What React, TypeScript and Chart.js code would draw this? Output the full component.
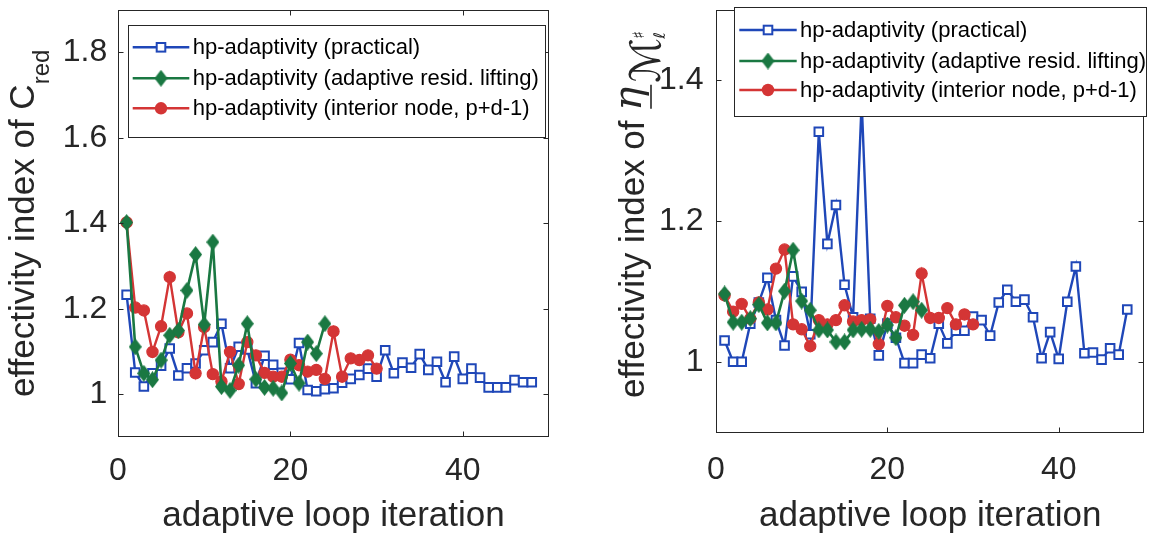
import React, { useEffect, useRef } from "react";
import { Chart, registerables } from "chart.js";

Chart.register(...registerables);

// ---------------- data ----------------
const iterations = [
  1, 2, 3, 4, 5, 6, 7, 8, 9, 10, 11, 12, 13, 14, 15, 16, 17, 18, 19, 20, 21, 22, 23, 24,
  25, 26, 27, 28, 29, 30, 31, 32, 33, 34, 35, 36, 37, 38, 39, 40, 41, 42, 43, 44, 45, 46, 47, 48,
];

const seriesLabels = [
  "hp-adaptivity (practical)",
  "hp-adaptivity (adaptive resid. lifting)",
  "hp-adaptivity (interior node, p+d-1)",
];

// left panel: effectivity index of C_red
const leftPractical = [
  1.233, 1.051, 1.018, 1.049, 1.067, 1.107, 1.044, 1.061, 1.072, 1.103, 1.122, 1.165,
  1.061, 1.111, 1.105, 1.026, 1.09, 1.069, 1.05, 1.035, 1.12, 1.01, 1.007, 1.012,
  1.014, 1.027, 1.036, 1.045, 1.06, 1.041, 1.103, 1.049, 1.074, 1.062, 1.094, 1.057,
  1.076, 1.028, 1.088, 1.036, 1.06, 1.039, 1.016, 1.016, 1.016, 1.033, 1.028, 1.028,
];
const leftLifting = [
  1.402, 1.111, 1.049, 1.034, 1.08, 1.138, 1.149, 1.243, 1.327, 1.163, 1.356, 1.018,
  1.009, 1.068, 1.165, 1.035, 1.016, 1.014, 1.003, 1.072, 1.026, 1.122, 1.095, 1.165,
];
const leftInterior = [
  1.402, 1.203, 1.196, 1.099, 1.159, 1.274, 1.145, 1.189, 1.049, 1.157, 1.047, 1.03,
  1.099, 1.024, 1.122, 1.091, 1.05, 1.041, 1.041, 1.081, 1.068, 1.053, 1.057, 1.036,
  1.147, 1.041, 1.084, 1.08, 1.091, 1.06,
];

// right panel: effectivity index of eta
const rightPractical = [
  1.031, 1.001, 1.001, 1.055, 1.085, 1.12, 1.06, 1.024, 1.122, 1.1, 1.04, 1.327,
  1.168, 1.223, 1.11, 1.064, 1.37, 1.062, 1.01, 1.055, 1.035, 0.999, 0.999, 1.011,
  1.006, 1.055, 1.027, 1.045, 1.045, 1.065, 1.06, 1.038, 1.085, 1.103, 1.086, 1.089,
  1.064, 1.006, 1.043, 1.005, 1.086, 1.136, 1.013, 1.014, 1.004, 1.02, 1.011, 1.075,
];
const rightLifting = [
  1.097, 1.057, 1.057, 1.062, 1.082, 1.056, 1.056, 1.101, 1.159, 1.087, 1.074, 1.046,
  1.046, 1.029, 1.029, 1.046, 1.047, 1.047, 1.044, 1.053, 1.035, 1.081, 1.086, 1.074,
];
const rightInterior = [
  1.095, 1.072, 1.083, 1.062, 1.085, 1.075, 1.133, 1.16, 1.054, 1.047, 1.023, 1.06,
  1.054, 1.06, 1.081, 1.058, 1.06, 1.061, 1.026, 1.08, 1.064, 1.052, 1.039, 1.126,
  1.063, 1.063, 1.077, 1.054, 1.068, 1.054,
];

const xTicks = [0, 20, 40];
const leftYTicks = [1, 1.2, 1.4, 1.6, 1.8];
const rightYTicks = [1, 1.2, 1.4];
const xLabel = "adaptive loop iteration";

// ---------------- styles ----------------
const FONT = "'Liberation Sans', Arial, Helvetica, sans-serif";
const AXIS = "#262626";
const BLUE = "#1f47b8";
const GREEN = "#1a7842";
const RED = "#d43535";
const TICK_LEN = 5;
const SQ_HALF = 4.3; // half side of the open square marker
const CIRCLE_R = 6.2;
const DIAMOND_W = 13;
const DIAMOND_H = 17;

function makeDiamond(color: string): HTMLCanvasElement {
  const c = document.createElement("canvas");
  const w = DIAMOND_W;
  const h = DIAMOND_H;
  c.width = w;
  c.height = h;
  const g = c.getContext("2d")!;
  g.fillStyle = color;
  g.beginPath();
  g.moveTo(w / 2, 0);
  g.lineTo(w, h / 2);
  g.lineTo(w / 2, h);
  g.lineTo(0, h / 2);
  g.closePath();
  g.fill();
  return c;
}

function toPoints(xs: number[], ys: number[]) {
  return ys.map((y, i) => ({ x: xs[i], y }));
}

type LegendCfg = {
  left: number;
  top: number;
  width: number;
  height: number;
  rows: number[];
  lineX0: number;
  lineX1: number;
  textX: number;
};

type PanelCfg = {
  yTicks: number[];
  legend: LegendCfg;
  diamond: HTMLCanvasElement;
  drawYTitle: (ctx: CanvasRenderingContext2D, area: any) => void;
};

function drawMarker(
  ctx: CanvasRenderingContext2D,
  kind: number,
  x: number,
  y: number,
  diamond: HTMLCanvasElement
) {
  if (kind === 0) {
    ctx.fillStyle = "#fff";
    ctx.strokeStyle = BLUE;
    ctx.lineWidth = 2;
    ctx.fillRect(x - SQ_HALF, y - SQ_HALF, SQ_HALF * 2, SQ_HALF * 2);
    ctx.strokeRect(x - SQ_HALF, y - SQ_HALF, SQ_HALF * 2, SQ_HALF * 2);
  } else if (kind === 1) {
    ctx.drawImage(diamond, x - diamond.width / 2, y - diamond.height / 2);
  } else {
    ctx.fillStyle = RED;
    ctx.beginPath();
    ctx.arc(x, y, CIRCLE_R, 0, Math.PI * 2);
    ctx.fill();
  }
}

function framePlugin(cfg: PanelCfg) {
  return {
    id: "matlabFrame",
    afterDatasetsDraw(chart: any) {
      const ctx: CanvasRenderingContext2D = chart.ctx;
      const a = chart.chartArea;
      const xs = chart.scales.x;
      const ys = chart.scales.y;
      ctx.save();
      // axes box with inward ticks on all four sides
      ctx.strokeStyle = AXIS;
      ctx.lineWidth = 1;
      const l = Math.round(a.left) + 0.5;
      const t = Math.round(a.top) + 0.5;
      const r = Math.round(a.right) - 0.5;
      const b = Math.round(a.bottom) - 0.5;
      ctx.strokeRect(l, t, r - l, b - t);
      ctx.beginPath();
      for (const v of xTicks) {
        const p = Math.round(xs.getPixelForValue(v)) + 0.5;
        ctx.moveTo(p, b);
        ctx.lineTo(p, b - TICK_LEN);
        ctx.moveTo(p, t);
        ctx.lineTo(p, t + TICK_LEN);
      }
      for (const v of cfg.yTicks) {
        const p = Math.round(ys.getPixelForValue(v)) + 0.5;
        ctx.moveTo(l, p);
        ctx.lineTo(l + TICK_LEN, p);
        ctx.moveTo(r, p);
        ctx.lineTo(r - TICK_LEN, p);
      }
      ctx.stroke();

      // legend (opaque, drawn over the data like MATLAB)
      const L = cfg.legend;
      ctx.fillStyle = "#fff";
      ctx.fillRect(L.left, L.top, L.width, L.height);
      ctx.strokeStyle = AXIS;
      ctx.lineWidth = 1;
      ctx.strokeRect(Math.round(L.left) + 0.5, Math.round(L.top) + 0.5, Math.round(L.width), Math.round(L.height));
      const colors = [BLUE, GREEN, RED];
      seriesLabels.forEach((lab, i) => {
        const y = L.rows[i];
        ctx.strokeStyle = colors[i];
        ctx.lineWidth = 2.4;
        ctx.beginPath();
        ctx.moveTo(L.lineX0, y);
        ctx.lineTo(L.lineX1, y);
        ctx.stroke();
        drawMarker(ctx, i, (L.lineX0 + L.lineX1) / 2, y, cfg.diamond);
        ctx.fillStyle = "#000";
        ctx.font = `22px ${FONT}`;
        ctx.textAlign = "left";
        ctx.textBaseline = "middle";
        ctx.fillText(lab, L.textX, y + 1);
      });

      ctx.save();
      cfg.drawYTitle(ctx, a);
      ctx.restore();
      ctx.restore();
    },
  };
}

function drawLeftTitle(ctx: CanvasRenderingContext2D, a: any) {
  const main = "effectivity index of C";
  const sub = "red";
  ctx.font = `35px ${FONT}`;
  const w1 = ctx.measureText(main).width;
  ctx.font = `24px ${FONT}`;
  const w2 = ctx.measureText(sub).width;
  const total = w1 + w2;
  const cy = (a.top + a.bottom) / 2;
  ctx.translate(33.5, cy + total / 2);
  ctx.rotate(-Math.PI / 2);
  ctx.fillStyle = AXIS;
  ctx.textAlign = "left";
  ctx.textBaseline = "alphabetic";
  ctx.font = `35px ${FONT}`;
  ctx.fillText(main, 0, 0);
  ctx.font = `24px ${FONT}`;
  ctx.fillText(sub, w1, 15.5);
}

function drawRightTitle(ctx: CanvasRenderingContext2D, a: any) {
  const main = "effectivity index of ";
  const etaFont = `italic 40px 'DejaVu Serif', serif`;
  const mFont = `42px 'DejaVu Sans', 'DejaVu Serif', sans-serif`;
  const smallFont = `16px 'DejaVu Sans', sans-serif`;
  ctx.font = `35px ${FONT}`;
  const w1 = ctx.measureText(main).width;
  ctx.font = etaFont;
  const wEta = ctx.measureText("\u03b7").width;
  ctx.font = mFont;
  const wM = ctx.measureText("\u2133").width;
  ctx.translate(644 - 580, 398);
  ctx.rotate(-Math.PI / 2);
  ctx.fillStyle = AXIS;
  ctx.strokeStyle = AXIS;
  ctx.textAlign = "left";
  ctx.textBaseline = "alphabetic";
  ctx.font = `35px ${FONT}`;
  ctx.fillText(main, 0, 0);
  ctx.font = etaFont;
  ctx.fillText("\u03b7", w1, -3);
  ctx.lineWidth = 1.6;
  ctx.beginPath();
  ctx.moveTo(w1 + 2, 7);
  ctx.lineTo(w1 + wEta + 2, 7);
  ctx.stroke();
  const mx = w1 + wEta + 4;
  ctx.font = mFont;
  ctx.fillText("\u2133", mx, 16);
  ctx.font = smallFont;
  ctx.fillText("\u266f", mx + wM - 1, 0);
  ctx.fillText("\u2113", mx + wM - 1, 21);
}

function buildConfig(
  practical: number[],
  lifting: number[],
  interior: number[],
  yMin: number,
  yMax: number,
  yTicks: number[],
  pad: { top: number; right: number },
  yWidth: number,
  xHeight: number,
  xTickPad: number,
  yTickPad: number,
  diamond: HTMLCanvasElement
): any {
  return {
    type: "line",
    data: {
      datasets: [
        {
          label: seriesLabels[0],
          data: toPoints(iterations, practical),
          borderColor: BLUE,
          borderWidth: 2.4,
          pointStyle: "rect",
          pointRadius: SQ_HALF * Math.SQRT2,
          pointBorderWidth: 2,
          pointBackgroundColor: "#ffffff",
          pointBorderColor: BLUE,
          order: 3,
        },
        {
          label: seriesLabels[1],
          data: toPoints(iterations, lifting),
          borderColor: GREEN,
          borderWidth: 2.6,
          pointStyle: diamond,
          pointRadius: 7,
          pointBackgroundColor: GREEN,
          pointBorderColor: GREEN,
          order: 1,
        },
        {
          label: seriesLabels[2],
          data: toPoints(iterations, interior),
          borderColor: RED,
          borderWidth: 2.4,
          pointStyle: "circle",
          pointRadius: CIRCLE_R - 0.6,
          pointBorderWidth: 1.2,
          pointBackgroundColor: RED,
          pointBorderColor: RED,
          order: 2,
        },
      ],
    },
    options: {
      responsive: false,
      animation: false,
      events: [],
      layout: { padding: { left: 0, top: pad.top, right: pad.right, bottom: 0 } },
      elements: { line: { tension: 0 } },
      plugins: {
        legend: { display: false },
        tooltip: { enabled: false },
        title: { display: false },
      },
      scales: {
        x: {
          type: "linear",
          min: 0,
          max: 50,
          afterBuildTicks: (s: any) => {
            s.ticks = xTicks.map((v) => ({ value: v }));
          },
          afterFit: (s: any) => {
            s.height = xHeight;
            s.paddingLeft = 0;
            s.paddingRight = 0;
            s.paddingTop = 0;
            s.paddingBottom = 0;
          },
          grid: { display: false, drawTicks: false },
          border: { display: false },
          ticks: {
            padding: xTickPad,
            maxRotation: 0,
            autoSkip: false,
            color: AXIS,
            font: { family: FONT, size: 32 },
            callback: (v: any) => String(v),
          },
          title: {
            display: true,
            text: xLabel,
            color: AXIS,
            font: { family: FONT, size: 35 },
            padding: { top: 0, bottom: 4 },
          },
        },
        y: {
          type: "linear",
          min: yMin,
          max: yMax,
          afterBuildTicks: (s: any) => {
            s.ticks = yTicks.map((v) => ({ value: v }));
          },
          afterFit: (s: any) => {
            s.width = yWidth;
            s.paddingTop = 0;
            s.paddingBottom = 0;
            s.paddingLeft = 0;
            s.paddingRight = 0;
          },
          grid: { display: false, drawTicks: false },
          border: { display: false },
          ticks: {
            padding: yTickPad,
            autoSkip: false,
            color: AXIS,
            font: { family: FONT, size: 32 },
            callback: (v: any) => String(Math.round(Number(v) * 10) / 10),
          },
        },
      },
    },
  };
}

function Panel(props: {
  left: number;
  width: number;
  build: (d: HTMLCanvasElement) => { cfg: any; plugin: any };
}) {
  const ref = useRef<HTMLCanvasElement | null>(null);
  useEffect(() => {
    if (!ref.current) return;
    const diamond = makeDiamond(GREEN);
    const { cfg, plugin } = props.build(diamond);
    cfg.plugins = [plugin];
    const chart = new Chart(ref.current, cfg);
    return () => chart.destroy();
  }, []);
  return (
    <div style={{ position: "absolute", left: props.left, top: 0, width: props.width, height: 541 }}>
      <canvas ref={ref} width={props.width} height={541} style={{ display: "block" }} />
    </div>
  );
}

export default function App() {
  return (
    <div
      style={{
        position: "absolute",
        left: 0,
        top: 0,
        width: 1154,
        height: 541,
        background: "#ffffff",
        overflow: "hidden",
      }}
    >
      <Panel
        left={0}
        width={580}
        build={(diamond) => ({
          cfg: buildConfig(
            leftPractical,
            leftLifting,
            leftInterior,
            0.9,
            1.9,
            leftYTicks,
            { top: 6, right: 31 },
            118,
            104,
            15,
            10.7,
            diamond
          ),
          plugin: framePlugin({
            yTicks: leftYTicks,
            diamond,
            legend: {
              left: 128.3,
              top: 25,
              width: 417,
              height: 111.7,
              rows: [47.3, 78.3, 108.3],
              lineX0: 132.7,
              lineX1: 189.3,
              textX: 192.7,
            },
            drawYTitle: drawLeftTitle,
          }),
        })}
      />
      <Panel
        left={580}
        width={574}
        build={(diamond) => ({
          cfg: buildConfig(
            rightPractical,
            rightLifting,
            rightInterior,
            0.9,
            1.5,
            rightYTicks,
            { top: 0, right: 4 },
            136,
            108,
            17.5,
            12.5,
            diamond
          ),
          plugin: framePlugin({
            yTicks: rightYTicks,
            diamond,
            legend: {
              left: 154.3,
              top: 7.3,
              width: 412,
              height: 109.4,
              rows: [30, 61, 90],
              lineX0: 159.3,
              lineX1: 216.7,
              textX: 220,
            },
            drawYTitle: drawRightTitle,
          }),
        })}
      />
    </div>
  );
}
